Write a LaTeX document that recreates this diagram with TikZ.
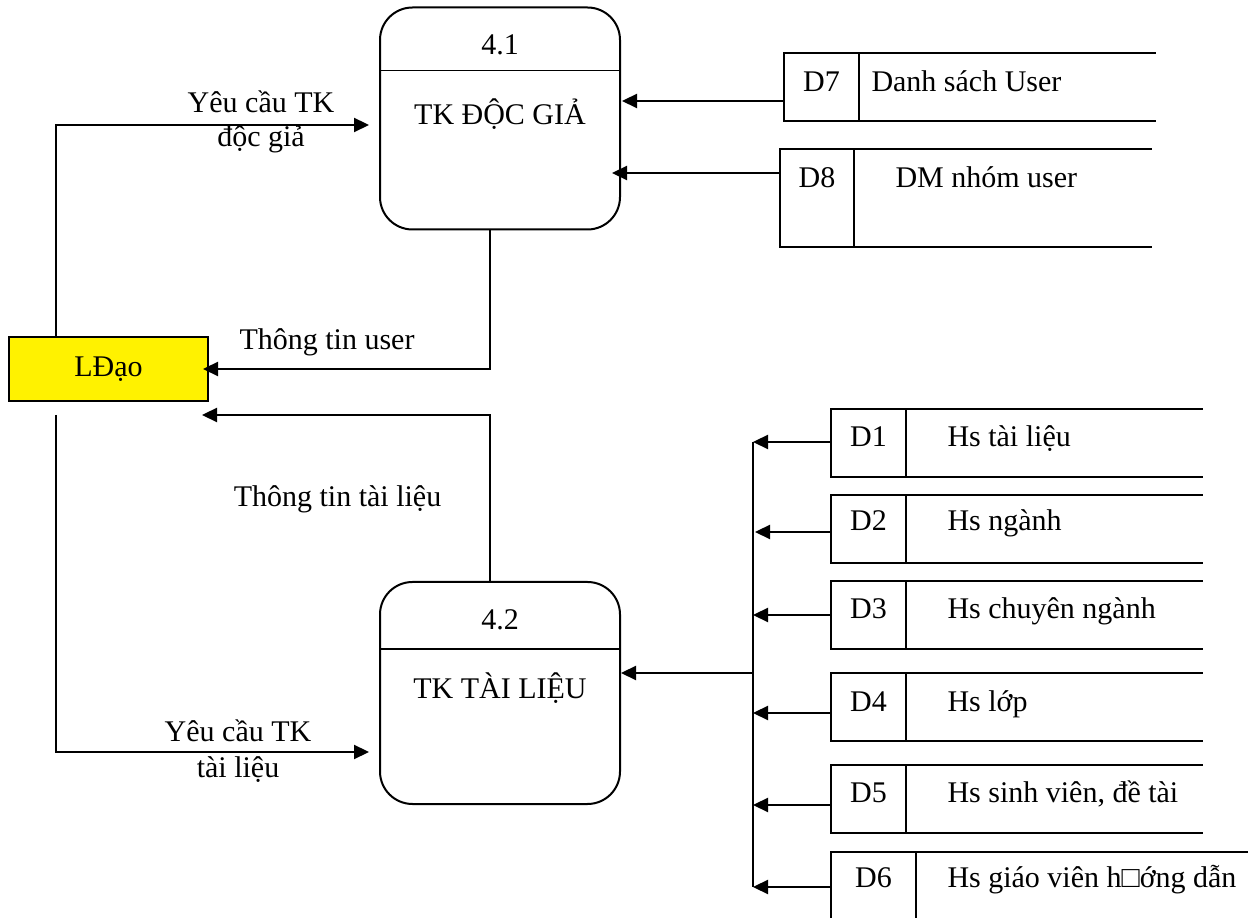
\documentclass[tikz,border=0pt]{standalone}
\usepackage{fontspec}
\setmainfont{Liberation Serif}
\usetikzlibrary{arrows.meta, positioning}

\begin{document}
\begin{tikzpicture}[
    x=0.4pt, y=-0.4pt,
    proc/.style={rectangle, rounded corners=13pt, draw, line width=0.8pt,
                 minimum width=96pt, minimum height=88.8pt, inner sep=0pt},
    actor/.style={rectangle, draw, line width=0.8pt, fill=yellow,
                  minimum width=79.6pt, minimum height=25.6pt, inner sep=0pt,
                  font=\fontsize{12}{14}\selectfont},
    idcell/.style={rectangle, draw, line width=0.8pt, inner sep=0pt, outer sep=0pt,
                   minimum width=30pt, minimum height=27.2pt},
    lbl/.style={inner sep=0pt, font=\fontsize{12}{14}\selectfont},
    sep/.style={line width=0.6pt},
    storeline/.style={line width=0.8pt},
    bus/.style={line width=0.9pt},
    arr/.style={-{Triangle[length=6pt, width=5.6pt]}, line width=0.9pt}
  ]
  \useasboundingbox (0,0) rectangle (1248,918);
  \fill[white] (0,0) rectangle (1248,918);
  \clip (0,0) rectangle (1248,918);

  % processes
  \node[proc] (p41) at (500,118.5) {};
  \draw[sep] ([yshift=-25.6pt]p41.north west) -- ([yshift=-25.6pt]p41.north east);
  \node[lbl, anchor=base] (p41num) at (500,55) {4.1};
  \node[lbl, anchor=base] (p41name) at (500,125) {TK ĐỘC GIẢ};

  \node[proc] (p42) at (500,693) {};
  \draw[sep] ([yshift=-27.2pt]p42.north west) -- ([yshift=-27.2pt]p42.north east);
  \node[lbl, anchor=base] (p42num) at (500,630) {4.2};
  \node[lbl, anchor=base] (p42name) at (500,699) {TK TÀI LIỆU};

  % external entity
  \node[actor] (ld) at (108.5,369) {LĐạo};

  % data stores for 4.1
  \node[idcell] (d7) at (821.5,87) {};
  \draw[storeline] (d7.north east) -- ++(297,0) (d7.south east) -- ++(297,0);
  \node[lbl, anchor=base] (d7id) at (821.5,92) {D7};
  \node[lbl, anchor=base west] (d7txt) at (871,92) {Danh sách User};

  \node[idcell, minimum width=29.6pt, minimum height=39.2pt] (d8) at (817,198) {};
  \draw[storeline] (d8.north east) -- ++(298,0) (d8.south east) -- ++(298,0);
  \node[lbl, anchor=base] (d8id) at (817,188) {D8};
  \node[lbl, anchor=base west] (d8txt) at (895,188) {DM nhóm user};

  % data stores for 4.2
  \node[idcell] (d1) at (868.5,443) {};
  \draw[storeline] (d1.north east) -- ++(297,0) (d1.south east) -- ++(297,0);
  \node[lbl, anchor=base] (d1id) at (868.5,447) {D1};
  \node[lbl, anchor=base west] (d1txt) at (947,447) {Hs tài liệu};

  \node[idcell] (d2) at (868.5,529) {};
  \draw[storeline] (d2.north east) -- ++(297,0) (d2.south east) -- ++(297,0);
  \node[lbl, anchor=base] (d2id) at (868.5,531) {D2};
  \node[lbl, anchor=base west] (d2txt) at (947,531) {Hs ngành};

  \node[idcell] (d3) at (868.5,615.5) {};
  \draw[storeline] (d3.north east) -- ++(297,0) (d3.south east) -- ++(297,0);
  \node[lbl, anchor=base] (d3id) at (868.5,619) {D3};
  \node[lbl, anchor=base west] (d3txt) at (947,619) {Hs chuyên ngành};

  \node[idcell] (d4) at (868.5,707.5) {};
  \draw[storeline] (d4.north east) -- ++(297,0) (d4.south east) -- ++(297,0);
  \node[lbl, anchor=base] (d4id) at (868.5,712) {D4};
  \node[lbl, anchor=base west] (d4txt) at (947,712) {Hs lớp};

  \node[idcell] (d5) at (868.5,799.5) {};
  \draw[storeline] (d5.north east) -- ++(297,0) (d5.south east) -- ++(297,0);
  \node[lbl, anchor=base] (d5id) at (868.5,803) {D5};
  \node[lbl, anchor=base west] (d5txt) at (947,803) {Hs sinh viên, đề tài};

  \node[idcell, minimum width=34pt, minimum height=40pt] (d6) at (873.5,902) {};
  \draw[storeline] (d6.north east) -- ++(332,0);
  \node[lbl, anchor=base] (d6id) at (873.5,888) {D6};
  \node[lbl, anchor=base west] (d6txt) at (947,888) {Hs giáo viên h□ớng dẫn};

  % flows between LDao and 4.1
  \coordinate (req1) at (369,125);
  \draw[arr] ([xshift=-21pt]ld.north) |- (req1);
  \node[lbl, anchor=base, align=center, font=\fontsize{12}{13.6}\selectfont]
    (req1lbl) at (261,147) {Yêu cầu TK\\độc giả};
  \draw[arr] ([xshift=-4pt]p41.south) |- ([xshift=-2.4pt]ld.east);
  \node[lbl, anchor=base] (info1lbl) at (327,350) {Thông tin user};

  % flows between LDao and 4.2
  \coordinate (ret2) at (202,415);
  \draw[arr] ([xshift=-4pt]p42.north) |- (ret2);
  \node[lbl, anchor=base] (info2lbl) at (337.5,507) {Thông tin tài liệu};
  \coordinate (req2) at (369,752);
  \draw[arr] ([xshift=-21pt, yshift=-5.2pt]ld.south) |- (req2);
  \node[lbl, anchor=base, align=center, font=\fontsize{12}{14.4}\selectfont]
    (req2lbl) at (238,778) {Yêu cầu TK\\tài liệu};

  % stores into 4.1
  \coordinate (tip7) at (622,101);
  \coordinate (tip8) at (612,173);
  \draw[arr] (d7.west |- tip7) -- (tip7);
  \draw[arr] (d8.west |- tip8) -- (tip8);

  % stores into 4.2 through the bus
  \coordinate (bus1) at (753,442);
  \coordinate (bus2) at (755,532);
  \coordinate (bus3) at (753,615);
  \coordinate (bus4) at (753,713);
  \coordinate (bus5) at (753,805);
  \coordinate (bus6) at (753,887);
  \coordinate (busm) at (753,673);
  \draw[bus] (bus1) -- (bus6);
  \draw[arr] (busm) -- (p42.east |- busm);
  \draw[arr] (d1.west |- bus1) -- (bus1);
  \draw[arr] (d2.west |- bus2) -- (bus2);
  \draw[arr] (d3.west |- bus3) -- (bus3);
  \draw[arr] (d4.west |- bus4) -- (bus4);
  \draw[arr] (d5.west |- bus5) -- (bus5);
  \draw[arr] (d6.west |- bus6) -- (bus6);
\end{tikzpicture}
\end{document}
